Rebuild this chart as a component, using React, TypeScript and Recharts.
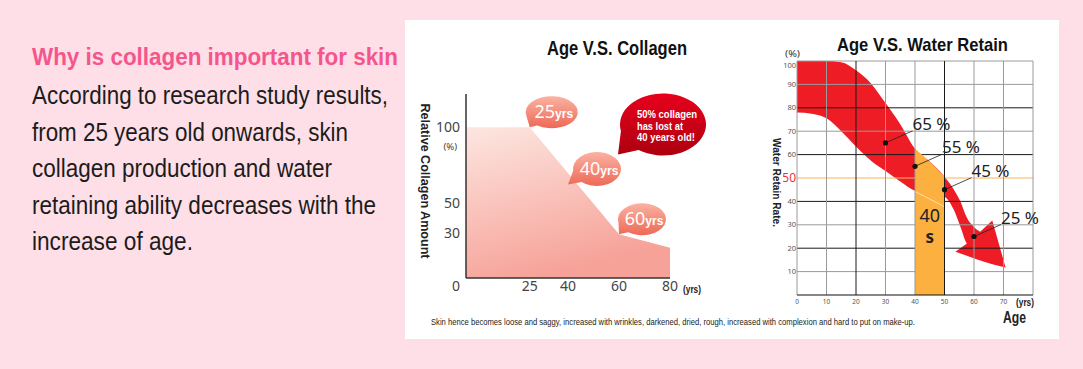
import {
  AreaChart,
  Area,
  ComposedChart,
  Line,
  Scatter,
  XAxis,
  YAxis,
  ReferenceLine,
  ReferenceDot,
} from "recharts";

// Age vs collagen
const collagenAge = [0, 25, 60, 80];
const collagenAmount = [100, 100, 29, 20];
const collagenAgeTicks = [0, 25, 40, 60, 80];
const collagenAmountTicks = [30, 50, 100];

// Age vs water retain: the red arrow (shaft + head) and the orange 40s band
const shaftAge = [0, 5, 10, 15, 20, 25, 30, 35, 40, 45, 50, 53.2, 55.4, 57.6, 59.9, 62.1];
const shaftLow = [78, 77.5, 75.5, 70, 63.5, 57.5, 53, 48.5, 44.6, 43.5, 42, 36.3, 29.2, 22, 20, 20];
const shaftHigh = [100, 100, 100, 99.5, 96, 90.5, 82, 73, 62.5, 57, 50.5, 45, 40, 33, 29.2, 27];
const headAge = [53.7, 57.6, 59.9, 62.1, 66.2, 70.7];
const headLow = [18.5, 16.8, 15.7, 14.7, 13.1, 11.8];
const headHigh = [18.5, 22, 24.5, 27, 31.8, 11.8];
const bandAge = [40, 45, 50];
const bandTop = [62.5, 57, 50.5];
const bandHighlight = [44.2, 41, 37.7];
const markAge = [30, 40, 50, 60];
const markRate = [65, 55, 45, 25];
const waterAgeTicks = [0, 10, 20, 30, 40, 50, 60, 70, 80];
const waterRateTicks = [10, 20, 30, 40, 50, 60, 70, 80, 90, 100];
const gridBlackRate = [20, 40, 60, 80];
const gridGrayRate = [10, 30, 70, 90, 100];
const gridBlackAge = [20, 50];
const gridGrayAge = [0, 10, 30, 40, 60, 70, 80];

const bodyLines = [
  "According to research study results,",
  "from 25 years old onwards, skin",
  "collagen production and water",
  "retaining ability decreases with the",
  "increase of age.",
];
const bodyWidths = [356, 316, 300, 344, 161];

const collagenRows = collagenAge.map((age, i) => ({ age, amount: collagenAmount[i] }));

const waterAges = Array.from(new Set([...shaftAge, ...headAge, ...bandAge])).sort((a, b) => a - b);
const waterRows = waterAges.map((age) => {
  const s = shaftAge.indexOf(age);
  const h = headAge.indexOf(age);
  const b = bandAge.indexOf(age);
  return {
    age,
    shaft: s >= 0 ? [shaftLow[s], shaftHigh[s]] : undefined,
    head: h >= 0 ? [headLow[h], headHigh[h]] : undefined,
    band: b >= 0 ? bandTop[b] : undefined,
    highlight: b >= 0 ? bandHighlight[b] : undefined,
  };
});
const markRows = markAge.map((age, i) => ({ age, rate: markRate[i] }));

const NARROW = "'Liberation Sans Narrow', 'Liberation Sans', Arial, sans-serif";
const SANS = "'Noto Sans', 'Open Sans', sans-serif";

const bubblePath = (cx: number, cy: number, ex: number, ey: number, rx: number, ry: number) => {
  const ang = Math.atan2(cy - ey, cx - ex);
  const spread = 0.38;
  const p1 = [ex + rx * Math.cos(ang - spread), ey + ry * Math.sin(ang - spread)];
  const p2 = [ex + rx * Math.cos(ang + spread), ey + ry * Math.sin(ang + spread)];
  return `M${p2[0]},${p2[1]} A${rx},${ry} 0 1 1 ${p1[0]},${p1[1]} L${cx},${cy} Z`;
};

const YrsBubble = ({ cx, cy, age, dx, dy, rx, ry }: any) => {
  const ex = cx + dx;
  const ey = cy + dy;
  return (
    <g>
      <path d={bubblePath(cx, cy, ex, ey, rx, ry)} fill="url(#bubbleSalmon)" />
      <text x={ex + 2} y={ey + 6} textAnchor="middle" fill="#fff">
        <tspan fontSize={18} fontFamily={SANS}>{age}</tspan>
        <tspan fontSize={12} fontWeight="bold" fontFamily={NARROW}>yrs</tspan>
      </text>
    </g>
  );
};

const FortyBubble = (p: any) => {
  const { cx, cy } = p;
  const tipX = cx + 50;
  const tipY = cy - 30;
  const ex = cx + 95;
  const ey = cy - 60;
  return (
    <g>
      <path d={bubblePath(tipX, tipY, ex, ey, 43, 31)} fill="url(#bubbleRed)" />
      <text fill="#fff" fontWeight="bold" fontSize={10.5} fontFamily={NARROW}>
        <tspan x={ex - 26} y={ey - 6} textLength={60} lengthAdjust="spacingAndGlyphs">50% collagen</tspan>
        <tspan x={ex - 26} y={ey + 6} textLength={46} lengthAdjust="spacingAndGlyphs">has lost at</tspan>
        <tspan x={ex - 26} y={ey + 17} textLength={58} lengthAdjust="spacingAndGlyphs">40 years old!</tspan>
      </text>
      <YrsBubble cx={cx} cy={cy} age={40} dx={29} dy={-15.5} rx={24} ry={17} />
    </g>
  );
};

const CollagenYTick = ({ x, y, payload }: any) => (
  <g>
    <text x={x} y={y} dy={5} textAnchor="end" fontSize={14} fill="#444" fontFamily={SANS}>
      {payload.value}
    </text>
    {payload.value === 100 && (
      <text x={x - 3} y={y} dy={23} textAnchor="end" fontSize={9.5} fill="#444" fontFamily={SANS}>
        (%)
      </text>
    )}
  </g>
);

const CollagenXTick = ({ x, y, payload }: any) => (
  <text x={x} dx={payload.value === 0 ? -10 : 0} y={y} dy={9} textAnchor="middle" fontSize={14} fill="#444" fontFamily={SANS}>
    {payload.value}
  </text>
);

const WaterYTick = ({ x, y, payload }: any) => {
  const red = payload.value === 50;
  return (
    <text
      x={x}
      y={y}
      dy={payload.value === 100 ? 7 : red ? 4 : 2.5}
      textAnchor="end"
      fontSize={red ? 12 : 7.5}
      fill={red ? "#ec2f3a" : "#555"}
      fontFamily={SANS}
    >
      {payload.value}
    </text>
  );
};

const WaterXTick = ({ x, y, payload }: any) =>
  payload.value === 80 ? null : (
    <text x={x} y={y} dy={5} textAnchor="middle" fontSize={6.5} fill="#555" fontFamily={SANS}>
      {payload.value}
    </text>
  );

const MarkShape = ({ cx, cy, payload }: any) => (
  <g>
    <line x1={cx} y1={cy} x2={cx + 27} y2={cy - 12} stroke="#222" strokeWidth={0.8} />
    <circle cx={cx} cy={cy} r={2.6} fill="#111" />
    <text x={cx + 27} y={cy - 13} fontSize={17} fill="#222" fontFamily={SANS}>
      {payload.rate} %
    </text>
  </g>
);

const FortiesLabel = ({ cx, cy }: any) => (
  <g>
    <text x={cx} y={cy} textAnchor="middle" fontSize={18} fill="#222" fontFamily={SANS}>
      40
    </text>
    <text x={cx} y={cy + 21} textAnchor="middle" fontSize={17} fontWeight="bold" fill="#222" fontFamily={SANS}>
      s
    </text>
  </g>
);

const CollagenChart = () => (
  <AreaChart width={310} height={300} data={collagenRows} margin={{ top: 74, right: 45, bottom: 12, left: 21 }}>
    <defs>
      <linearGradient id="collagenFill" x1="0" y1="0" x2="0.35" y2="1">
        <stop offset="0%" stopColor="#fde6e1" />
        <stop offset="100%" stopColor="#f6a298" />
      </linearGradient>
      <linearGradient id="bubbleSalmon" x1="0" y1="0" x2="0" y2="1">
        <stop offset="0%" stopColor="#fbb2a3" />
        <stop offset="100%" stopColor="#ee6956" />
      </linearGradient>
      <linearGradient id="bubbleRed" x1="0" y1="0" x2="0" y2="1">
        <stop offset="0%" stopColor="#e8001d" />
        <stop offset="100%" stopColor="#ad000f" />
      </linearGradient>
    </defs>
    <XAxis
      dataKey="age"
      type="number"
      domain={[0, 80]}
      ticks={collagenAgeTicks}
      height={30}
      tickLine={false}
      tickSize={0}
      tickMargin={4}
      axisLine={{ stroke: "#333", strokeWidth: 1.5 }}
      tick={<CollagenXTick />}
    />
    <YAxis
      type="number"
      domain={[0, 122]}
      ticks={collagenAmountTicks}
      width={40}
      tickLine={false}
      tickSize={0}
      tickMargin={6}
      axisLine={{ stroke: "#333", strokeWidth: 1.5 }}
      tick={<CollagenYTick />}
    />
    <Area type="linear" dataKey="amount" fill="url(#collagenFill)" fillOpacity={1} stroke="none" isAnimationActive={false} />
    <ReferenceDot x={25} y={100} zIndex={600} shape={(p: any) => <YrsBubble {...p} age={25} dx={22} dy={-15} rx={26} ry={16} />} />
    <ReferenceDot x={40} y={62} zIndex={600} shape={(p: any) => <FortyBubble {...p} />} />
    <ReferenceDot x={60} y={29} zIndex={600} shape={(p: any) => <YrsBubble {...p} age={60} dx={23} dy={-15} rx={24} ry={16} />} />
  </AreaChart>
);

const WaterChart = () => (
  <ComposedChart width={290} height={280} data={waterRows} margin={{ top: 21, right: 17, bottom: 5, left: 7 }}>
    <XAxis
      dataKey="age"
      type="number"
      domain={[0, 80]}
      ticks={waterAgeTicks}
      height={20}
      tickLine={false}
      tickSize={0}
      tickMargin={4}
      axisLine={{ stroke: "#111", strokeWidth: 1.2 }}
      tick={<WaterXTick />}
    />
    <YAxis
      type="number"
      domain={[0, 100]}
      ticks={waterRateTicks}
      width={30}
      tickLine={false}
      axisLine={false}
      tickSize={0}
      tickMargin={1}
      tick={<WaterYTick />}
    />
    <Area type="monotone" dataKey="shaft" connectNulls fill="#ee1c24" fillOpacity={1} stroke="none" zIndex={100} isAnimationActive={false} />
    <Area type="linear" dataKey="head" connectNulls fill="#ee1c24" fillOpacity={1} stroke="none" zIndex={100} isAnimationActive={false} />
    {gridGrayRate.map((v) => (
      <ReferenceLine key={`gy${v}`} y={v} stroke="#9a9a9a" strokeWidth={1} zIndex={150} />
    ))}
    {gridBlackRate.map((v) => (
      <ReferenceLine key={`by${v}`} y={v} stroke="#1a1a1a" strokeWidth={1} zIndex={150} />
    ))}
    <ReferenceLine y={50} stroke="#f9b15c" strokeWidth={1.2} zIndex={150} />
    <Area type="monotone" dataKey="band" connectNulls fill="#fbb040" fillOpacity={1} stroke="none" zIndex={200} isAnimationActive={false} />
    <Line type="linear" dataKey="highlight" stroke="#fff" strokeOpacity={0.75} strokeWidth={0.8} dot={false} zIndex={210} isAnimationActive={false} />
    {gridGrayAge.map((v) => (
      <ReferenceLine key={`gx${v}`} x={v} stroke="#9a9a9a" strokeWidth={1} zIndex={250} />
    ))}
    {gridBlackAge.map((v) => (
      <ReferenceLine key={`bx${v}`} x={v} stroke="#1a1a1a" strokeWidth={1} zIndex={250} />
    ))}
    <Scatter data={markRows} dataKey="rate" shape={<MarkShape />} zIndex={600} isAnimationActive={false} />
    <ReferenceDot x={45} y={31} zIndex={650} shape={(p: any) => <FortiesLabel {...p} />} />
  </ComposedChart>
);

export default function App() {
  return (
    <div style={{ position: "fixed", left: 0, top: 0, width: 1083, height: 369, background: "#fedfe7", overflow: "hidden" }}>
      <div style={{ position: "absolute", left: 405, top: 20, width: 654, height: 319, background: "#fff" }} />
      <div style={{ position: "absolute", left: 405, top: 20 }}>
        <CollagenChart />
      </div>
      <div style={{ position: "absolute", left: 760, top: 40 }}>
        <WaterChart />
      </div>
      <svg width={1083} height={369} style={{ position: "absolute", left: 0, top: 0, pointerEvents: "none" }}>
        <text x={32} y={65} fontFamily={NARROW} fontWeight="bold" fontSize={23} fill="#f5558d" textLength={366} lengthAdjust="spacingAndGlyphs">
          Why is collagen important for skin
        </text>
        {bodyLines.map((line, i) => (
          <text
            key={line}
            x={32}
            y={104 + i * 36.5}
            fontFamily={NARROW}
            fontSize={25}
            fill="#1c1c1c"
            textLength={bodyWidths[i]}
            lengthAdjust="spacingAndGlyphs"
          >
            {line}
          </text>
        ))}
        <text x={547} y={55} fontFamily={NARROW} fontWeight="bold" fontSize={21} fill="#111" textLength={140} lengthAdjust="spacingAndGlyphs">
          Age V.S. Collagen
        </text>
        <text x={837} y={51} fontFamily={NARROW} fontWeight="bold" fontSize={19} fill="#111" textLength={171} lengthAdjust="spacingAndGlyphs">
          Age V.S. Water Retain
        </text>
        <text
          transform="translate(425,181) rotate(90)"
          textAnchor="middle"
          dominantBaseline="central"
          fontFamily={NARROW}
          fontWeight="bold"
          fontSize={12.5}
          fill="#222"
          textLength={155}
          lengthAdjust="spacingAndGlyphs"
        >
          Relative Collagen Amount
        </text>
        <text
          transform="translate(776,182.5) rotate(90)"
          textAnchor="middle"
          dominantBaseline="central"
          fontFamily={NARROW}
          fontWeight="bold"
          fontSize={10}
          fill="#222"
          textLength={89}
          lengthAdjust="spacingAndGlyphs"
        >
          Water Retain Rate.
        </text>
        <text x={683} y={293} fontFamily={NARROW} fontWeight="bold" fontSize={11} fill="#222" textLength={18} lengthAdjust="spacingAndGlyphs">
          (yrs)
        </text>
        <text x={785} y={57} fontFamily={SANS} fontSize={9} fill="#333" textLength={15} lengthAdjust="spacingAndGlyphs">
          (%)
        </text>
        <text x={1016} y={305.5} fontFamily={NARROW} fontWeight="bold" fontSize={11} fill="#222" textLength={18} lengthAdjust="spacingAndGlyphs">
          (yrs)
        </text>
        <text x={1003} y={322.5} fontFamily={NARROW} fontWeight="bold" fontSize={17} fill="#222" textLength={23} lengthAdjust="spacingAndGlyphs">
          Age
        </text>
        <text x={431} y={325} fontFamily={NARROW} fontSize={9} fill="#222" textLength={484} lengthAdjust="spacingAndGlyphs">
          Skin hence becomes loose and saggy, increased with wrinkles, darkened, dried, rough, increased with complexion and hard to put on make-up.
        </text>
      </svg>
    </div>
  );
}
